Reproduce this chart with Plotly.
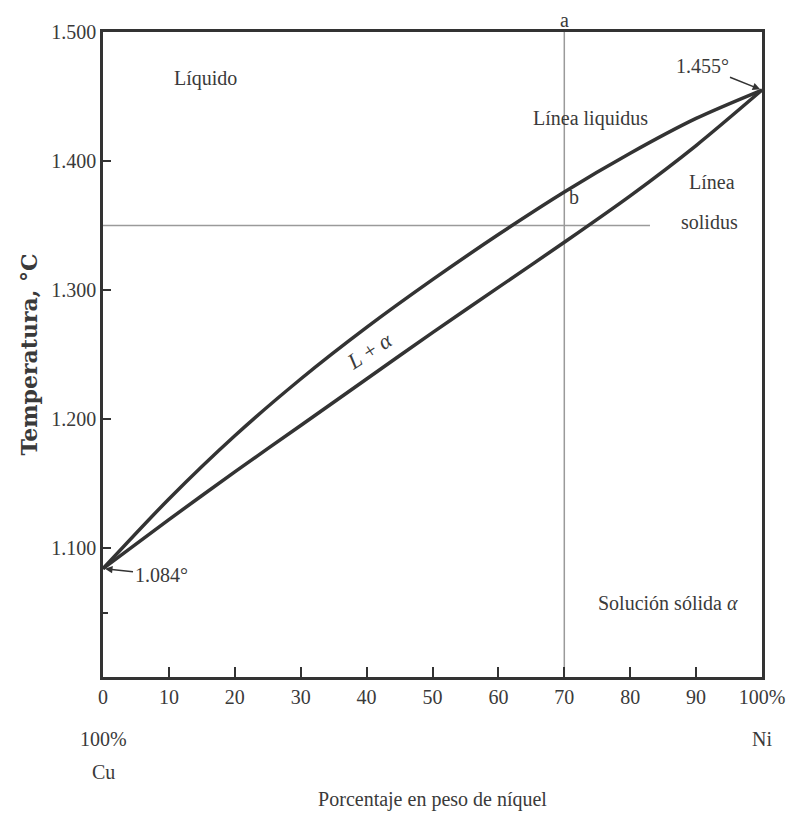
import plotly.graph_objects as go

# ---- data ----
ni_pct = [0, 10, 20, 30, 40, 50, 60, 70, 80, 90, 100]
liquidus_T = [1084, 1138, 1187, 1231, 1271, 1308, 1343, 1376, 1406, 1433, 1455]
solidus_T = [1084, 1122, 1159, 1195, 1231, 1267, 1302, 1337, 1373, 1412, 1455]

x_ticks = [0, 10, 20, 30, 40, 50, 60, 70, 80, 90, 100]
x_ticktext = ["0", "10", "20", "30", "40", "50", "60", "70", "80", "90", "100%"]
y_ticks = [1100, 1200, 1300, 1400, 1500]
y_ticktext = ["1.100", "1.200", "1.300", "1.400", "1.500"]

guide_T = 1350          # horizontal guide temperature
guide_T_end = 83        # horizontal guide ends at this % Ni
guide_pct = 70          # vertical guide composition
T_min, T_max = 1000, 1500

FONT = "Liberation Serif"
INK = "#333333"
TXT = "#3a3a3a"
GUIDE = "#9a9a9a"

fig = go.Figure()

fig.add_trace(go.Scatter(x=[0, guide_T_end], y=[guide_T, guide_T], mode="lines",
                         line=dict(color=GUIDE, width=1.5), hoverinfo="skip"))
fig.add_trace(go.Scatter(x=[guide_pct, guide_pct], y=[T_min, T_max], mode="lines",
                         line=dict(color=GUIDE, width=1.5), hoverinfo="skip"))
fig.add_trace(go.Scatter(x=ni_pct, y=liquidus_T, mode="lines", name="Línea liquidus",
                         line=dict(color=INK, width=3.5, shape="spline", smoothing=0.8)))
fig.add_trace(go.Scatter(x=ni_pct, y=solidus_T, mode="lines", name="Línea solidus",
                         line=dict(color=INK, width=3.5, shape="spline", smoothing=0.8)))

tf = dict(family=FONT, size=20, color=TXT)

def label(x, y, text, font=tf, **kw):
    fig.add_annotation(x=x, y=y, text=text, showarrow=False, font=font, **kw)

label(15.5, 1464, "Líquido")
label(73.9, 1433, "Línea liquidus")
label(92.4, 1384, "Línea")
label(92.1, 1353, "solidus")
label(71.5, 1372, "b")
label(40.5, 1253, "<i>L</i> + <i>α</i>", textangle=-33,
      font=dict(family=FONT, size=22, color=TXT))
label(85.7, 1057, "Solución sólida <i>α</i>")

# "a" sits just above the top frame, on the vertical guide
fig.add_annotation(x=guide_pct, y=1, xref="x", yref="paper", yanchor="middle",
                   yshift=12, text="a", showarrow=False, font=tf)

fig.add_annotation(x=100, y=1455, text="1.455°", showarrow=True, arrowhead=2,
                   arrowsize=1, arrowwidth=1.5, arrowcolor=INK, ax=-60, ay=-24,
                   font=tf, standoff=2)
fig.add_annotation(x=0, y=1084, text="1.084°", showarrow=True, arrowhead=2,
                   arrowsize=1, arrowwidth=1.5, arrowcolor=INK, ax=58, ay=6,
                   font=tf, standoff=2)

# extra lines under the end tick labels
fig.add_annotation(x=0, y=0, xref="x", yref="paper", yshift=-75, text="100%",
                   showarrow=False, font=tf)
fig.add_annotation(x=0, y=0, xref="x", yref="paper", yshift=-108, text="Cu",
                   showarrow=False, font=tf)
fig.add_annotation(x=100, y=0, xref="x", yref="paper", yshift=-75, text="Ni",
                   showarrow=False, font=tf)

fig.update_layout(
    width=787, height=813,
    margin=dict(l=95, r=33, t=24, b=144),
    paper_bgcolor="white", plot_bgcolor="white",
    showlegend=False,
    font=dict(family=FONT, size=20, color=TXT),
    xaxis=dict(range=[0, 100], tickvals=x_ticks, ticktext=x_ticktext,
               ticks="inside", ticklen=10, tickwidth=1.5, tickcolor=INK,
               showline=True, linecolor=INK, linewidth=2.5, mirror=True,
               showgrid=False, zeroline=False, automargin=False,
               tickfont=dict(family=FONT, size=20, color=TXT),
               title=dict(text="Porcentaje en peso de níquel", standoff=86,
                          font=dict(family=FONT, size=20, color=TXT))),
    yaxis=dict(range=[T_min, T_max], tickvals=y_ticks, ticktext=y_ticktext,
               ticks="inside", ticklen=8, tickwidth=1.5, tickcolor=INK,
               minor=dict(tickvals=[1050], ticks="inside", ticklen=5, tickcolor=INK),
               showline=True, linecolor=INK, linewidth=2.5, mirror=True,
               showgrid=False, zeroline=False, automargin=False,
               tickfont=dict(family=FONT, size=20, color=TXT),
               title=dict(text="<b>Temperatura, °C</b>", standoff=8,
                          font=dict(family="DejaVu Serif", size=22, color=TXT))),
)

fig.write_html("out.html")
